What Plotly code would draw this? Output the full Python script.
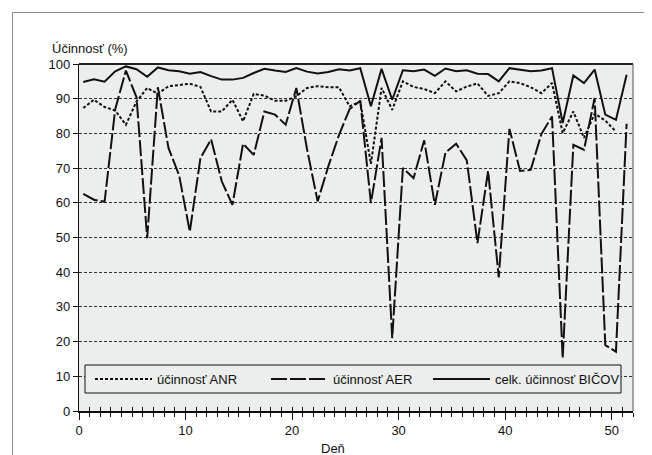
import plotly.graph_objects as go

# ---- data ----
days = [i + 0.4 for i in range(52)]

anr = [87.3, 89.7, 87.6, 86.6, 82.5, 89.2, 93.1, 91.4, 93.6, 94.0,
       94.3, 93.4, 86.3, 86.3, 89.7, 83.5, 91.4, 90.9, 89.4, 89.4,
       90.7, 93.1, 93.6, 93.3, 93.3, 87.8, 89.2, 71.2, 93.1, 86.8,
       95.0, 93.4, 92.8, 91.6, 95.0, 92.1, 93.5, 94.4, 90.8, 91.6,
       95.0, 94.5, 93.3, 91.6, 94.5, 80.1, 86.3, 78.7, 85.7, 83.7,
       80.5, None]

aer = [62.6, 60.9, 60.3, 87.0, 98.1, 90.4, 49.8, 93.3, 75.8, 67.9,
       51.7, 72.9, 78.3, 66.2, 59.4, 77.0, 73.8, 86.3, 85.4, 82.5,
       93.1, 75.5, 60.4, 70.5, 79.5, 87.0, 89.4, 59.9, 78.7, 21.0,
       70.0, 67.1, 78.0, 59.4, 74.5, 77.0, 72.2, 48.4, 69.2, 38.5,
       81.3, 69.2, 69.5, 79.8, 84.9, 15.2, 76.7, 75.3, 90.2, 19.0,
       17.1, 82.8]

bicov = [94.8, 95.6, 94.9, 97.9, 99.3, 98.5, 96.3, 99.0, 98.2, 97.9,
         97.2, 97.7, 96.5, 95.5, 95.5, 96.0, 97.4, 98.6, 98.1, 97.7,
         98.8, 97.8, 97.3, 97.7, 98.5, 98.1, 98.8, 87.8, 98.6, 89.7,
         98.2, 97.9, 98.4, 96.6, 98.7, 97.9, 98.2, 97.2, 97.1, 95.0,
         98.8, 98.4, 97.9, 98.1, 98.8, 83.0, 96.7, 94.5, 98.4, 85.4,
         83.9, 96.9]

series_names = ["účinnosť ANR", "účinnosť AER", "celk. účinnosť BIČOV"]
y_tick_vals = list(range(0, 101, 10))
x_tick_vals = list(range(0, 51, 10))
y_title = "Účinnosť (%)"
x_title = "Deň"

FONT = "Liberation Sans, Arial, sans-serif"
FS = 13
BG = "#eceeed"
INK = "#111111"

fig = go.Figure()
fig.add_trace(go.Scatter(x=days, y=anr, name=series_names[0], mode="lines", legend="legend",
                         line=dict(color=INK, width=2, dash="3px,2px")))
fig.add_trace(go.Scatter(x=days, y=aer, name=series_names[1], mode="lines", legend="legend2",
                         line=dict(color=INK, width=2, dash="16px,3px")))
fig.add_trace(go.Scatter(x=days, y=bicov, name=series_names[2], mode="lines", legend="legend3",
                         line=dict(color=INK, width=2)))
# invisible helper trace for the inside-tick overlay axis
fig.add_trace(go.Scatter(x=[0, 52], y=[None, None], xaxis="x2", showlegend=False,
                         hoverinfo="skip", mode="lines"))

W, H = 652, 455
L, R, T, B = 71, 27, 56, 52
pw, ph = W - L - R, H - T - B

def px(xp):
    return (xp - L) / pw

def py(yp):
    return (H - B - yp) / ph

def leg(xpix):
    return dict(orientation="h", x=px(xpix), y=py(371), xanchor="left", yanchor="middle",
                bgcolor="rgba(0,0,0,0)", borderwidth=0, itemwidth=57,
                font=dict(family=FONT, size=FS, color=INK))

fig.update_layout(
    width=W, height=H,
    margin=dict(l=L, r=R, t=T, b=B),
    paper_bgcolor="white",
    plot_bgcolor=BG,
    font=dict(family=FONT, size=FS, color=INK),
    showlegend=True,
    legend=leg(82),
    legend2=leg(258),
    legend3=leg(420),
    xaxis=dict(
        range=[0, 52], showgrid=False, zeroline=False,
        showline=True, linecolor=INK, linewidth=1.5,
        tickmode="array", tickvals=x_tick_vals,
        ticks="outside", ticklen=7, tickwidth=1.2, tickcolor=INK,
        minor=dict(dtick=1, ticks="outside", ticklen=4, tickwidth=1, tickcolor=INK, showgrid=False),
        tickfont=dict(family=FONT, size=FS, color=INK),
    ),
    xaxis2=dict(
        range=[0, 52], overlaying="x", side="bottom", showgrid=False, zeroline=False,
        showline=False, showticklabels=False,
        tickmode="linear", tick0=0, dtick=1,
        ticks="inside", ticklen=4, tickwidth=1, tickcolor=INK,
    ),
    yaxis=dict(
        range=[0, 100], zeroline=False,
        showline=True, linecolor=INK, linewidth=1.2,
        tickmode="array", tickvals=y_tick_vals,
        ticks="outside", ticklen=5, tickwidth=1, tickcolor=INK,
        showgrid=True, gridcolor="#333333", gridwidth=1, griddash="3px,2px",
        tickfont=dict(family=FONT, size=FS, color=INK),
    ),
    shapes=[
        dict(type="rect", xref="paper", yref="paper",
             x0=px(4.5), x1=px(647.5), y0=py(450.5), y1=py(4.5),
             line=dict(color="#8a8a8a", width=1), fillcolor="rgba(0,0,0,0)", layer="below"),
        dict(type="line", xref="paper", yref="paper", x0=0, x1=1, y0=1, y1=1,
             line=dict(color="#222222", width=2)),
        dict(type="line", xref="paper", yref="paper", x0=1, x1=1, y0=0, y1=1,
             line=dict(color="#555555", width=1)),
        # legend frame
        dict(type="rect", xref="paper", yref="paper",
             x0=px(77), x1=px(613), y0=py(385), y1=py(357),
             line=dict(color=INK, width=1), fillcolor=BG, layer="above"),
    ],
    annotations=[
        dict(text=y_title, xref="paper", yref="paper", x=px(42), y=py(40),
             xanchor="left", yanchor="middle", showarrow=False,
             font=dict(family=FONT, size=FS, color=INK)),
        dict(text=x_title, xref="paper", yref="paper", x=px(325), y=py(440),
             xanchor="center", yanchor="middle", showarrow=False,
             font=dict(family=FONT, size=FS, color=INK)),
    ],
)

fig.write_html("out.html")
